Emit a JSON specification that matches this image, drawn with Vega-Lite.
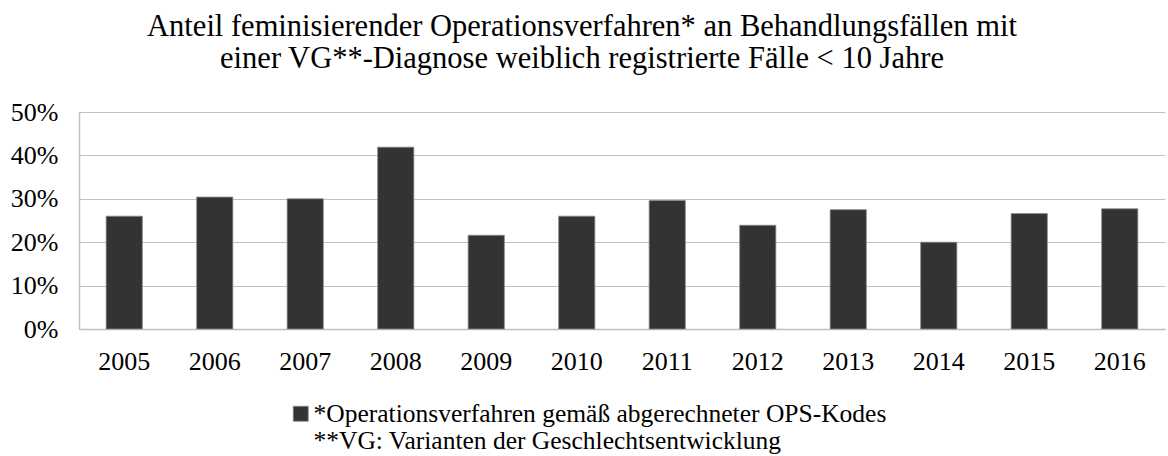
{
  "$schema": "https://vega.github.io/schema/vega-lite/v6.json",
  "width": 1086,
  "height": 217,
  "autosize": {"type": "none"},
  "padding": {"left": 79, "top": 112, "right": 3, "bottom": 127},
  "background": "white",
  "config": {
    "font": "Liberation Serif",
    "view": {"stroke": null}
  },
  "title": {
    "text": ["Anteil feminisierender Operationsverfahren* an Behandlungsfällen mit", "einer VG**-Diagnose weiblich registrierte Fälle < 10 Jahre"],
    "font": "Liberation Serif",
    "fontSize": 30.5,
    "fontWeight": "normal",
    "color": "#000000",
    "anchor": "middle",
    "dx": -40,
    "offset": 25,
    "lineHeight": 32
  },
  "data": {
    "values": [
      {"jahr": "2005", "anteil": 0.260, "serie": "s"},
      {"jahr": "2006", "anteil": 0.304, "serie": "s"},
      {"jahr": "2007", "anteil": 0.300, "serie": "s"},
      {"jahr": "2008", "anteil": 0.419, "serie": "s"},
      {"jahr": "2009", "anteil": 0.216, "serie": "s"},
      {"jahr": "2010", "anteil": 0.260, "serie": "s"},
      {"jahr": "2011", "anteil": 0.296, "serie": "s"},
      {"jahr": "2012", "anteil": 0.239, "serie": "s"},
      {"jahr": "2013", "anteil": 0.275, "serie": "s"},
      {"jahr": "2014", "anteil": 0.200, "serie": "s"},
      {"jahr": "2015", "anteil": 0.266, "serie": "s"},
      {"jahr": "2016", "anteil": 0.277, "serie": "s"}
    ]
  },
  "mark": {"type": "bar", "stroke": "#8a8a8a", "strokeWidth": 0.8},
  "encoding": {
    "x": {
      "field": "jahr",
      "type": "ordinal",
      "scale": {"paddingInner": 0.6, "paddingOuter": 0.3},
      "axis": {
        "title": null,
        "labelAngle": 0,
        "labelFont": "Liberation Serif",
        "labelColor": "#000000",
        "labelFontSize": 26,
        "labelPadding": 19,
        "ticks": false,
        "domainColor": "#bfbfbf",
        "domainWidth": 1.5,
        "grid": false
      }
    },
    "y": {
      "field": "anteil",
      "type": "quantitative",
      "scale": {"domain": [0, 0.5], "nice": false},
      "axis": {
        "title": null,
        "format": ".0%",
        "values": [0, 0.1, 0.2, 0.3, 0.4, 0.5],
        "labelFont": "Liberation Serif",
        "labelColor": "#000000",
        "labelFontSize": 26,
        "labelPadding": 21,
        "ticks": false,
        "domainColor": "#bfbfbf",
        "domainWidth": 1.5,
        "grid": true,
        "gridColor": "#bfbfbf",
        "gridWidth": 1.2
      }
    },
    "color": {
      "field": "serie",
      "type": "nominal",
      "scale": {"range": ["#333333"]},
      "legend": {
        "title": null,
        "orient": "none",
        "legendX": 209,
        "legendY": 289,
        "symbolType": "square",
        "symbolSize": 225,
        "symbolStrokeColor": "#8a8a8a",
        "symbolStrokeWidth": 0.8,
        "labelFont": "Liberation Serif",
        "labelFontSize": 25.5,
        "labelColor": "#000000",
        "labelLimit": 0,
        "labelOffset": 0,
        "labelBaseline": "middle",
        "labelExpr": "['*Operationsverfahren gemäß abgerechneter OPS-Kodes', '**VG: Varianten der Geschlechtsentwicklung']"
      }
    }
  }
}
